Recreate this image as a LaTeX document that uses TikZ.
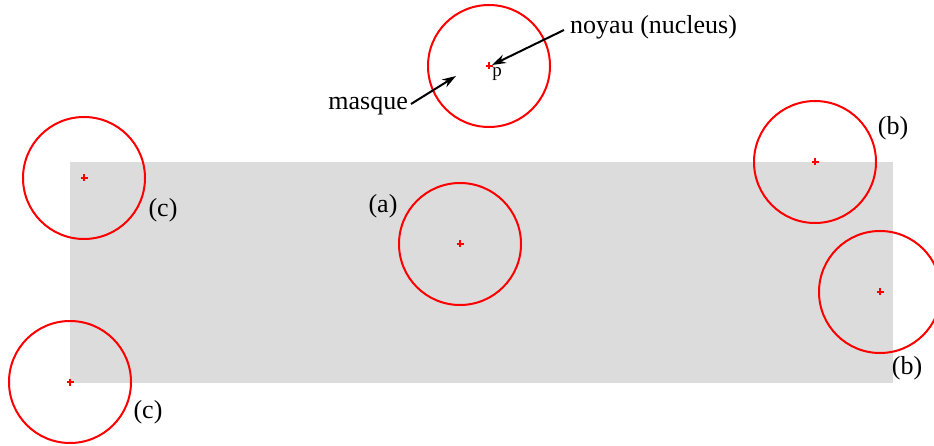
\documentclass[tikz,border=0pt]{standalone}
\usepackage{fontspec}
\setmainfont{Liberation Serif}
\usetikzlibrary{arrows.meta}
\begin{document}
\begin{tikzpicture}[x=1pt,y=-1pt,
  win/.style={draw=red, line width=2pt},
  lbl/.style={inner sep=0pt, font=\fontsize{26}{30}\selectfont},
  arr/.style={-{Stealth[length=14pt,width=9pt]}, line width=2pt}]
\useasboundingbox (0,0) rectangle (934,446);
\fill[fill={rgb,255:red,220;green,220;blue,220}] (70,162) rectangle (893,383);
\foreach \n/\x/\y in {top/489/66, a/460/244, c1/84/178, c2/70/382, b1/815/162, b2/880/292}{
  \draw[win] (\x,\y) circle (61);
  \coordinate (\n) at (\x,\y);
  \draw[red, line width=1.2pt] (\x-3.5,\y) -- (\x+3.5,\y) (\x,\y-3.5) -- (\x,\y+3.5);
}
\node[lbl, anchor=west] (noyau) at (570,27) {noyau (nucleus)};
\node[lbl, anchor=east] (masque) at (408,106) {masque};
\node[lbl, font=\fontsize{19}{21}\selectfont] (p) at (497,74) {p};
\coordinate (mtip) at (456,76);
\coordinate (ntip) at (492,65);
\draw[arr] (masque.east) ++(3,-2) -- (mtip);
\draw[arr] (noyau.west) ++(-6,3) -- (ntip);
\node[lbl] (la) at (383,206) {(a)};
\node[lbl] (lc1) at (163,210) {(c)};
\node[lbl] (lc2) at (148,412) {(c)};
\node[lbl] (lb1) at (893,128) {(b)};
\node[lbl] (lb2) at (907,368) {(b)};
\end{tikzpicture}
\end{document}
